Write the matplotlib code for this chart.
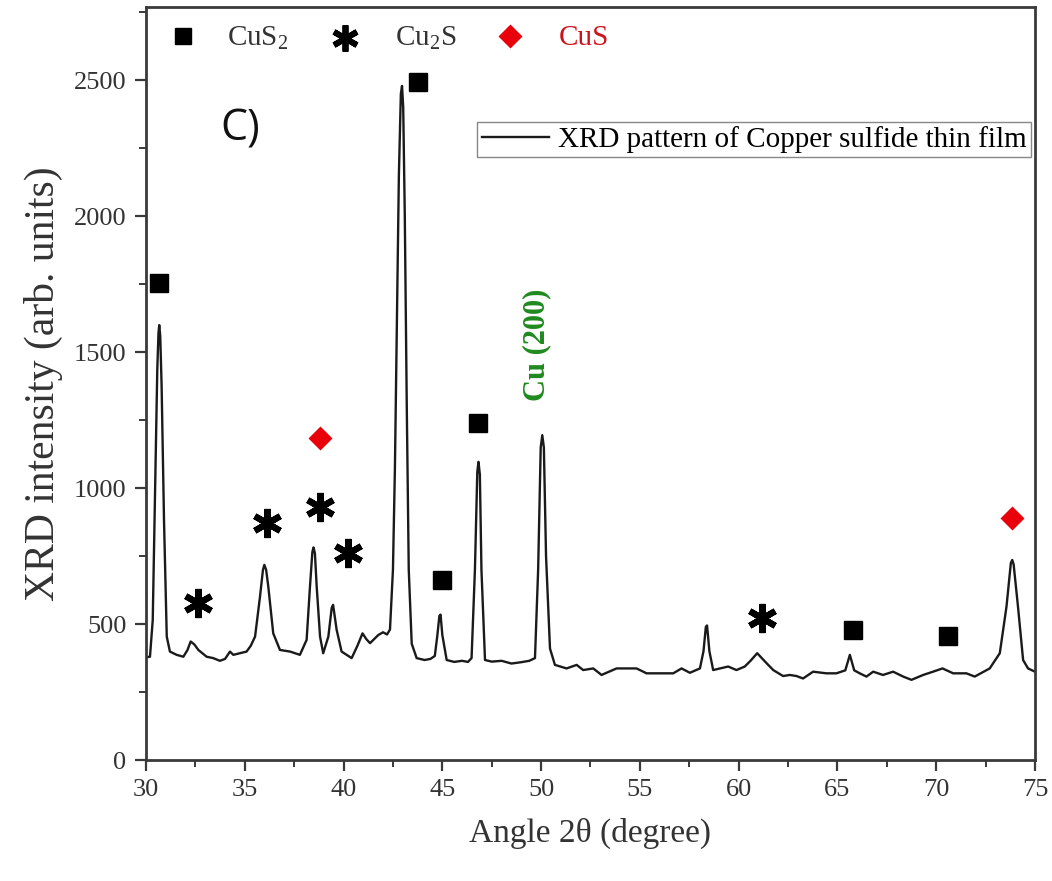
import matplotlib
matplotlib.use("Agg")
import matplotlib.pyplot as plt
from matplotlib.ticker import MultipleLocator

plt.rcParams["font.family"] = ["Liberation Serif", "DejaVu Serif"]
plt.rcParams["mathtext.fontset"] = "custom"
plt.rcParams["mathtext.rm"] = "Liberation Serif"
plt.rcParams["mathtext.it"] = "Liberation Serif:italic"

# XRD scan: diffraction angle 2θ (degree) and intensity (arb. units)
two_theta = [
    30.00, 30.20, 30.34, 30.46, 30.57, 30.63, 30.67, 30.72, 30.79, 30.91,
    31.05, 31.21, 31.55, 31.89, 32.10, 32.26, 32.45, 32.65, 33.07, 33.40,
    33.74, 34.00, 34.25, 34.42, 34.70, 35.09, 35.30, 35.52, 35.77, 35.92,
    35.99, 36.08, 36.19, 36.44, 36.78, 37.29, 37.79, 38.13, 38.30, 38.42,
    38.48, 38.55, 38.64, 38.81, 38.97, 39.23, 39.40, 39.47, 39.65, 39.90,
    40.41, 40.70, 40.96, 41.15, 41.34, 41.76, 42.00, 42.20, 42.35, 42.50,
    42.60, 42.70, 42.80, 42.90, 42.96, 43.02, 43.10, 43.20, 43.30, 43.45,
    43.70, 44.10, 44.40, 44.62, 44.75, 44.85, 44.91, 45.00, 45.22, 45.60,
    46.00, 46.30, 46.48, 46.65, 46.77, 46.83, 46.90, 46.98, 47.16, 47.50,
    48.00, 48.50, 49.00, 49.40, 49.69, 49.85, 49.98, 50.06, 50.14, 50.25,
    50.45, 50.70, 51.29, 51.80, 52.13, 52.64, 53.06, 53.82, 54.83, 55.34,
    56.69, 57.11, 57.53, 58.04, 58.22, 58.34, 58.40, 58.52, 58.71, 59.47,
    59.89, 60.31, 60.60, 60.94, 61.30, 61.75, 62.25, 62.59, 62.93, 63.26,
    63.77, 64.44, 64.95, 65.40, 65.63, 65.85, 66.13, 66.47, 66.81, 67.31,
    67.82, 68.33, 68.75, 69.34, 69.84, 70.32, 70.86, 71.53, 71.95, 72.71,
    73.22, 73.56, 73.78, 73.85, 73.92, 74.14, 74.40, 74.65, 75.00,
]
intensity = [
    378, 380, 515, 1006, 1436, 1570, 1600, 1560, 1375, 884,
    454, 399, 387, 380, 405, 436, 425, 405, 380, 375,
    365, 372, 399, 387, 392, 399, 420, 454, 601, 700,
    718, 700, 638, 466, 405, 399, 387, 442, 638, 765,
    782, 760, 638, 454, 393, 454, 560, 571, 479, 399,
    375, 420, 466, 445, 430, 460, 470, 462, 480, 700,
    1075, 1600, 2150, 2450, 2480, 2400, 2000, 1300, 700, 428,
    375, 368, 372, 383, 460, 530, 535, 460, 368, 361,
    365, 361, 375, 700, 1060, 1097, 1050, 700, 368, 362,
    365, 355, 360, 365, 375, 700, 1150, 1195, 1150, 750,
    410, 350, 337, 350, 331, 337, 313, 337, 337, 319,
    319, 337, 321, 337, 400, 490, 495, 400, 331, 344,
    331, 344, 365, 393, 365, 331, 309, 313, 309, 300,
    325, 319, 319, 330, 387, 330, 319, 307, 325, 313,
    325, 307, 295, 313, 325, 337, 319, 319, 307, 337,
    393, 565, 725, 736, 720, 565, 368, 337, 325,
]

# Phase identification symbols placed above the peaks
cus2_angles = [30.66, 43.77, 44.98, 46.80, 65.78, 70.59]
cus2_heights = [1756, 2496, 663, 1241, 479, 457]
cu2s_angles = [32.63, 36.12, 38.81, 40.22, 61.17]
cu2s_heights = [578, 873, 932, 762, 523]
cus_angles = [38.81, 73.83]
cus_heights = [1186, 891]

x_ticks = [30, 35, 40, 45, 50, 55, 60, 65, 70, 75]
y_ticks = [0, 500, 1000, 1500, 2000, 2500]

ink = "#1a1a1a"
axis_gray = "#3a3a3a"

fig = plt.figure(figsize=(10.52, 8.81), dpi=100)
ax = fig.add_axes([0.1388, 0.1373, 0.845, 0.8547])

ax.plot(two_theta, intensity, color=ink, lw=1.7,
        label="XRD pattern of Copper sulfide thin film")

star = (6, 2, 0)
ax.plot(cus2_angles, cus2_heights, ls="none", marker="s", ms=12.5,
        color="black")
ax.plot(cu2s_angles, cu2s_heights, ls="none", marker=star, ms=21,
        mew=4.5, color="black")
ax.plot(cus_angles, cus_heights, ls="none", marker="D", ms=12.5,
        color="#e8000b", mec="none")

# Symbol key along the top of the panel
key_y = 2655
ax.plot([31.87], [key_y + 10], ls="none", marker="s", ms=11, color="black")
ax.text(34.1, key_y, r"CuS$_2$", fontsize=21, color="#333333",
        va="center", ha="left")
ax.plot([40.07], [key_y], ls="none", marker=star, ms=19, mew=4.2,
        color="black")
ax.text(42.6, key_y, r"Cu$_2$S", fontsize=21, color="#333333",
        va="center", ha="left")
ax.plot([48.42], [key_y + 10], ls="none", marker="D", ms=12, color="#e8000b",
        mec="none")
ax.text(50.9, key_y, "CuS", fontsize=21, color="#d0101c",
        va="center", ha="left")

ax.text(49.79, 1528, "Cu (200)", rotation=90, fontsize=22, fontweight="bold",
        color="#1f8a1f", ha="center", va="center")

ax.text(34.76, 2320, "C)", fontsize=31, color="#111111",
        family=["Open Sans", "DejaVu Sans"], ha="center", va="center")

leg = ax.legend(loc="upper right", bbox_to_anchor=(0.995, 0.848),
                fontsize=21, frameon=True, fancybox=False, framealpha=1,
                edgecolor="#888888", handlelength=2.3, handletextpad=0.3,
                borderpad=0.15, borderaxespad=0.0)
leg.get_frame().set_linewidth(1.0)

ax.set_xlim(30, 75)
ax.set_ylim(0, 2770)
ax.set_xticks(x_ticks)
ax.set_yticks(y_ticks)
ax.xaxis.set_minor_locator(MultipleLocator(2.5))
ax.yaxis.set_minor_locator(MultipleLocator(250))
ax.tick_params(axis="both", which="major", direction="out", length=8,
               width=1.6, color=axis_gray, labelsize=19,
               labelcolor="#333333", pad=6)
ax.tick_params(axis="both", which="minor", direction="out", length=5,
               width=1.4, color=axis_gray)
ax.tick_params(top=False, right=False)
for side in ["left", "bottom", "top", "right"]:
    ax.spines[side].set_linewidth(2.0)
    ax.spines[side].set_color(axis_gray)

ax.set_xlabel("Angle 2θ (degree)", fontsize=24, color="#333333", labelpad=12)
ax.set_ylabel("XRD intensity (arb. units)", fontsize=30, color="#333333",
              labelpad=8)

fig.savefig("out.png", dpi=100, facecolor="white")
